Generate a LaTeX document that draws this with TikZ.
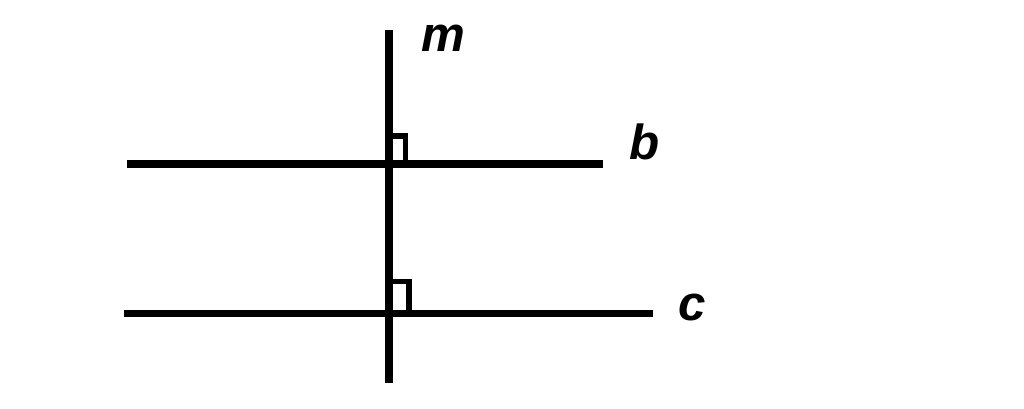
\documentclass[tikz,border=0pt]{standalone}
\usepackage{fontspec}
\setmainfont{Liberation Sans}
\usepackage{tikz}
\usetikzlibrary{positioning}

\tikzset{
    linelabel/.style={font=\fontsize{14}{16}\selectfont\bfseries\itshape, inner sep=0pt},
    thickline/.style={line width=2pt},
    rightmark/.style={line width=1.5pt}
}

\begin{document}
\begin{tikzpicture}[x=0.01cm, y=-0.01cm]
            \useasboundingbox (0,0) rectangle (1024,409);
            \coordinate (mtop) at (389,30);
            \coordinate (mbot) at (389,383);
            \coordinate (bl) at (127,164);
            \coordinate (br) at (603,164);
            \coordinate (cl) at (124,313.5);
            \coordinate (cr) at (653,313.5);
            \draw (443,38) node[linelabel]                   (m) {m};
            \draw (645,142) node[linelabel]                  (b) {b};
            \draw (692,307) node[linelabel]                  (c) {c};
            \draw[thickline] (mtop) -- (mbot);
            \draw[thickline] (bl) -- (br);
            \draw[thickline] (cl) -- (cr);
            \draw[rightmark] (389,136) -- (405.5,136) -- (405.5,164);
            \draw[rightmark] (389,281.5) -- (409,281.5) -- (409,313.5);

            \end{tikzpicture}
\end{document}
